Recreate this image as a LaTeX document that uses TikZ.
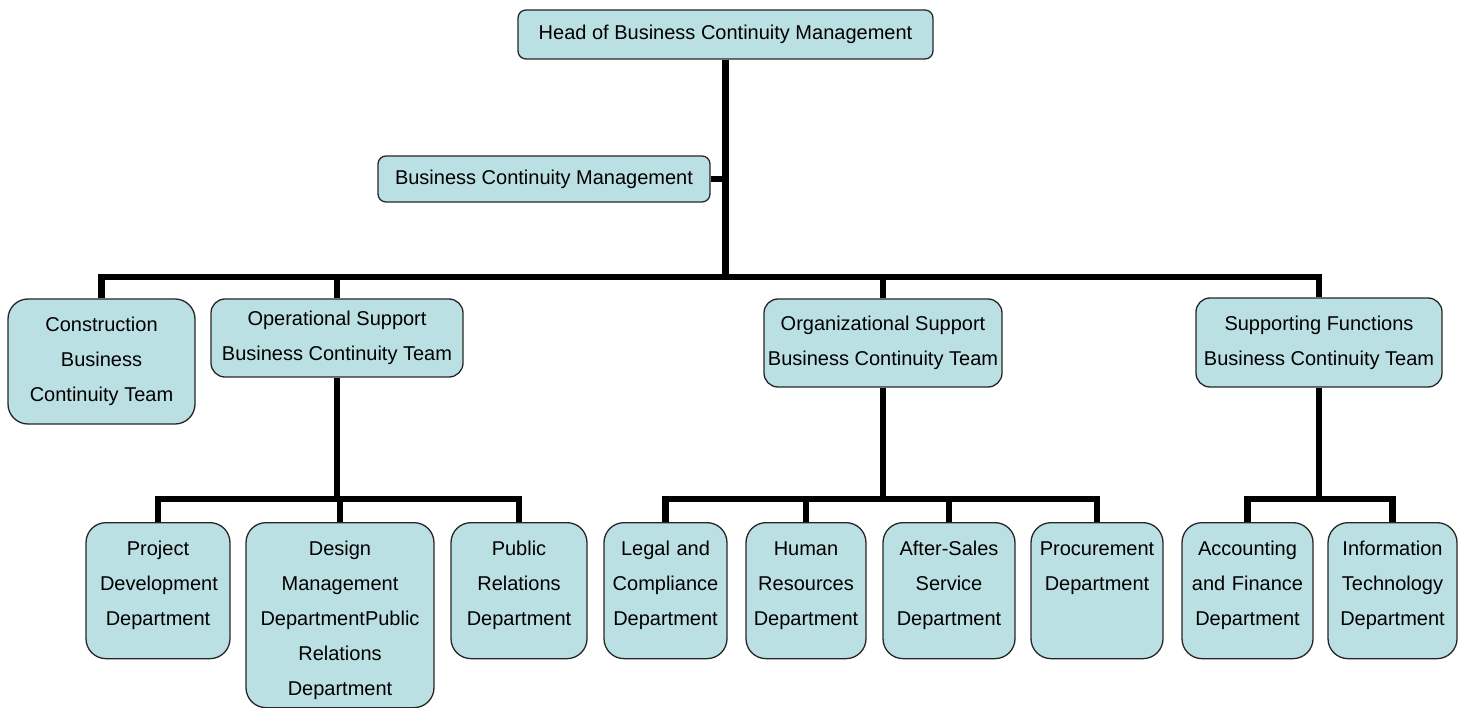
\documentclass[tikz,border=0pt]{standalone}
\usepackage{fontspec}
\setmainfont{Liberation Sans}

\definecolor{boxfill}{RGB}{187,224,227}
\tikzset{
  unitbox/.style={draw=black!85, line width=1.3pt, fill=boxfill,
    rounded corners=14pt, align=center, inner sep=0pt,
    font=\fontsize{20}{35}\selectfont},
  deptbox/.style={unitbox, anchor=north, rounded corners=20pt,
    text width=116pt, text height=33pt, text depth=103pt},
  linkline/.style={line width=6.5pt},
}

\begin{document}
\begin{tikzpicture}[x=1pt, y=-1pt]
  \useasboundingbox (0,0) rectangle (1464,708);

  % --- Head and staff unit ---
  \node[unitbox, rounded corners=8pt, minimum width=415pt, minimum height=49pt]
    (head) at (725.5,34.5) {Head of Business Continuity Management};
  \node[unitbox, rounded corners=8pt, minimum width=332pt, minimum height=46pt]
    (bcm) at (544,179) {Business Continuity Management};

  % --- Teams ---
  \node[unitbox, rounded corners=20pt, minimum width=187pt, minimum height=125pt]
    (constr) at (101.5,361.5) {Construction\\Business\\Continuity Team};
  \node[unitbox, minimum width=252pt, minimum height=78pt]
    (ops) at (337,338) {Operational Support\\Business Continuity Team};
  \node[unitbox, minimum width=238pt, minimum height=88pt]
    (org) at (883,343) {Organizational Support\\Business Continuity Team};
  \node[unitbox, minimum width=246pt, minimum height=89pt]
    (sup) at (1319,342.5) {Supporting Functions\\Business Continuity Team};

  % --- Departments ---
  \node[deptbox, minimum width=144pt] (proj) at (158,522)
    {Project\\Development\\Department};
  \node[deptbox, minimum width=188pt, text width=180pt, text depth=152pt]
    (design) at (340,522)
    {Design\\Management\\DepartmentPublic\\Relations\\Department};
  \node[deptbox, minimum width=136pt] (pubrel) at (519,522)
    {Public\\Relations\\Department};
  \node[deptbox, minimum width=123pt] (legal) at (665.5,522)
    {Legal and\\Compliance\\Department};
  \node[deptbox, minimum width=120pt] (hr) at (806,522)
    {Human\\Resources\\Department};
  \node[deptbox, minimum width=132pt] (after) at (949,522)
    {After-Sales\\Service\\Department};
  \node[deptbox, minimum width=132pt] (procure) at (1097,522)
    {Procurement\\Department};
  \node[deptbox, minimum width=131pt] (acct) at (1247.5,522)
    {Accounting\\and Finance\\Department};
  \node[deptbox, minimum width=129pt] (it) at (1392.5,522)
    {Information\\Technology\\Department};

  % --- Connectors ---
  \coordinate (topbus) at (725.5,277);
  \coordinate (opsbus) at (337,499);
  \coordinate (orgbus) at (883,499);
  \coordinate (supbus) at (1319,499);

  \draw[linkline] (head.south) -- (topbus);
  \draw[linkline] (bcm.east) -- (bcm.east -| topbus);
  \foreach \n in {constr,ops,org,sup}
    \draw[linkline] (\n.north) |- (topbus);

  \draw[linkline] (ops.south) -- (opsbus);
  \foreach \n in {proj,design,pubrel}
    \draw[linkline] (\n.north) |- (opsbus);

  \draw[linkline] (org.south) -- (orgbus);
  \foreach \n in {legal,hr,after,procure}
    \draw[linkline] (\n.north) |- (orgbus);

  \draw[linkline] (sup.south) -- (supbus);
  \foreach \n in {acct,it}
    \draw[linkline] (\n.north) |- (supbus);
\end{tikzpicture}
\end{document}
